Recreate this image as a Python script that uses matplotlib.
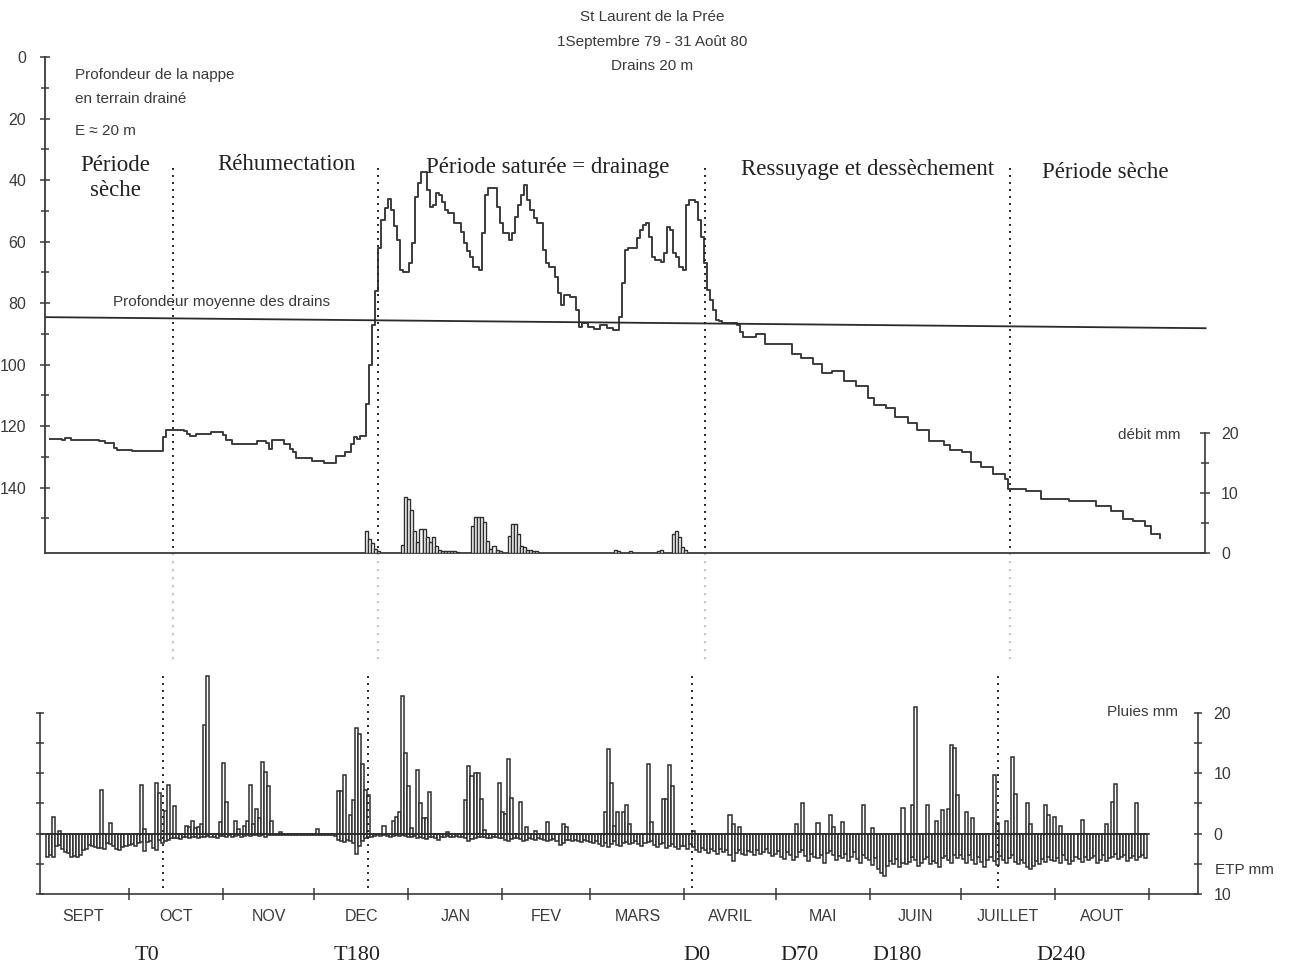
import matplotlib
matplotlib.use("Agg")
import matplotlib.pyplot as plt
from matplotlib.ticker import FixedLocator

# ---------------- data ----------------
# water-table depth (cm) : day since 1 Sept 79 -> depth
wt_day = [0, 4, 5, 7, 16, 18, 21, 22, 27, 37, 38, 44, 45, 46, 48, 53, 57, 58, 60, 68,
          71, 72, 73, 77, 79, 80, 81, 86, 90, 94, 97, 99, 100, 101, 102, 104, 105, 106,
          107, 108, 109, 110, 111, 112, 113, 114, 115, 116, 118, 119, 120, 121, 122, 124,
          125, 126, 127, 128, 129, 130, 131, 133, 135, 136, 137, 138, 139, 141, 142, 143,
          144, 147, 148, 149, 151, 152, 153, 154, 155, 156, 157, 158, 159, 160, 162, 163,
          164, 166, 167, 168, 169, 171, 173, 174, 175, 177, 179, 181, 183, 185, 187, 188,
          189, 190, 193, 194, 195, 196, 197, 198, 199, 201, 202, 203, 204, 205, 206, 207,
          208, 209, 210, 212, 213, 214, 215, 216, 217, 218, 219, 220, 221, 226, 227, 228,
          232, 235, 244, 247, 251, 254, 257, 261, 265, 269, 271, 275, 278, 282, 285, 289,
          294, 296, 300, 303, 306, 310, 314, 315, 321, 326, 335, 344, 349, 353, 356, 360,
          362, 365]
wt_depth = [124.3, 124.6, 124.0, 124.6, 125.0, 125.6, 127.0, 127.8, 128.1, 123.5, 121.3,
            121.6, 122.5, 123.2, 122.6, 122.0, 123.0, 124.5, 125.8, 124.8, 125.5, 127.5,
            124.5, 126.0, 127.5, 128.5, 130.5, 131.5, 132.0, 129.8, 128.5, 126.0, 123.5,
            124.2, 123.3, 113.0, 100.0, 87.0, 76.0, 62.0, 53.0, 49.0, 46.2, 49.8, 55.0,
            59.5, 69.3, 70.0, 67.0, 60.5, 45.5, 41.0, 37.4, 43.3, 48.8, 48.0, 44.3, 45.0,
            47.2, 49.8, 50.8, 54.0, 56.9, 60.5, 63.0, 65.0, 68.3, 69.3, 57.2, 45.0, 42.6,
            48.8, 54.0, 57.2, 59.5, 57.2, 52.0, 48.0, 45.0, 41.6, 46.5, 49.8, 52.4, 54.0,
            62.8, 67.0, 68.3, 71.5, 76.7, 80.7, 77.4, 78.0, 82.3, 87.8, 86.5, 87.8, 88.5,
            87.2, 88.1, 88.8, 84.6, 73.5, 62.8, 62.1, 58.9, 56.3, 54.6, 54.0, 58.5, 65.0,
            66.0, 66.7, 63.7, 55.3, 56.3, 63.7, 65.0, 68.3, 69.3, 48.0, 46.5, 47.2, 53.0,
            58.5, 67.0, 75.8, 79.0, 82.3, 85.5, 86.0, 86.5, 87.2, 89.4, 91.0, 90.0, 93.3,
            96.6, 97.9, 99.8, 102.7, 102.1, 105.4, 107.0, 111.0, 113.2, 114.1, 117.0, 119.0,
            121.3, 124.9, 126.2, 127.8, 128.5, 131.7, 133.3, 135.6, 137.2, 140.5, 141.1,
            143.7, 144.4, 146.0, 147.6, 150.2, 150.9, 152.5, 155.1, 156.4]

# mean drain depth (start / end of the reference line)
drain_day = [-1.5, 380]
drain_depth = [84.6, 88.2]

# drain outflow (mm/day)
debit_day = [104, 105, 106, 107, 108, 116, 117, 118, 119, 120, 121, 122, 123, 124, 125,
             126, 127, 128, 129, 130, 131, 132, 133, 134, 139, 140, 141, 142, 143, 144,
             145, 146, 147, 148, 151, 152, 153, 154, 155, 156, 157, 158, 159, 160, 186,
             187, 191, 200, 201, 205, 206, 207, 208, 209]
debit_mm = [3.7, 2.3, 1.7, 0.6, 0.3, 1.3, 9.3, 9.0, 7.2, 3.7, 1.8, 4.0, 4.0, 2.7, 1.8,
            2.7, 1.2, 0.5, 0.4, 0.3, 0.3, 0.3, 0.3, 0.2, 4.5, 6.0, 6.0, 6.0, 5.2, 2.0,
            0.7, 1.2, 0.5, 0.3, 2.8, 4.8, 4.8, 3.2, 1.2, 1.0, 0.5, 0.5, 0.4, 0.3, 0.5,
            0.3, 0.3, 0.4, 0.5, 3.2, 3.7, 2.7, 1.0, 0.5]

# rainfall (mm/day)
rain_day = [5, 7, 21, 24, 34, 35, 39, 40, 42, 43, 45, 49, 50, 51, 52, 53, 54, 55, 56, 60,
            61, 62, 65, 66, 68, 69, 70, 71, 72, 73, 74, 75, 76, 77, 80, 92, 99, 100, 101,
            103, 104, 105, 106, 107, 108, 109, 114, 117, 118, 119, 120, 121, 122, 123, 125,
            126, 127, 128, 129, 135, 141, 142, 143, 144, 145, 146, 147, 152, 153, 154, 155,
            156, 159, 161, 164, 168, 173, 174, 187, 188, 189, 190, 191, 193, 194, 195, 201,
            202, 206, 207, 208, 209, 216, 228, 229, 231, 250, 252, 257, 261, 262, 265, 272,
            275, 285, 288, 289, 293, 296, 298, 300, 301, 302, 303, 306, 308, 315, 316, 319,
            321, 322, 326, 327, 332, 333, 335, 337, 344, 352, 354, 355, 362]
rain_mm = [2.8, 0.5, 7.2, 1.8, 8.1, 0.8, 8.3, 6.7, 3.7, 8.1, 4.5, 1.2, 1.1, 2.1, 1.0, 1.1,
           1.6, 18.0, 26.0, 1.9, 11.6, 5.3, 2.0, 0.8, 1.3, 2.0, 8.0, 1.5, 4.1, 2.5, 11.9,
           10.2, 7.8, 2.0, 0.3, 0.8, 7.0, 7.0, 9.7, 3.0, 5.5, 17.4, 16.4, 11.5, 7.2, 6.4,
           1.3, 2.0, 2.7, 3.5, 22.8, 13.4, 7.8, 0.9, 10.5, 5.0, 2.5, 2.5, 6.8, 0.3, 5.6,
           11.2, 9.6, 10.0, 10.0, 5.8, 0.6, 8.3, 3.5, 3.2, 12.4, 5.9, 5.3, 1.1, 0.4, 1.9,
           1.6, 1.1, 3.5, 14.0, 8.3, 1.3, 3.5, 3.5, 4.7, 1.6, 11.5, 1.9, 5.8, 5.8, 11.3,
           7.9, 0.5, 3.0, 1.5, 1.1, 1.5, 5.0, 1.7, 3.0, 1.1, 1.9, 4.7, 0.9, 4.3, 4.7, 21.0,
           4.7, 2.0, 3.9, 4.1, 14.7, 14.2, 6.3, 3.6, 2.5, 9.7, 1.8, 2.0, 12.6, 6.6, 5.0,
           1.6, 4.7, 3.1, 2.7, 1.2, 2.2, 1.6, 5.3, 8.2, 5.1]

# potential evapotranspiration (mm/day), days 3 .. 365, by month
etp_sep = [3.8, 3.6, 3.8, 2.0, 1.9, 2.6, 3.0, 3.2, 3.8, 3.7, 3.8, 3.6, 2.7, 2.6, 1.9, 2.0,
           2.2, 2.4, 2.4, 2.5, 1.6, 1.7, 2.0, 2.6, 2.7, 2.2, 2.0]
etp_oct = [1.9, 1.8, 2.0, 1.5, 1.4, 2.9, 1.4, 1.2, 2.4, 2.8, 1.0, 1.5, 1.2, 1.0, 0.8, 0.8,
           0.7, 0.9, 0.6, 0.6, 0.7, 0.6, 0.5, 0.8, 0.6, 0.5, 0.4, 0.5, 0.5, 0.7, 0.4]
etp_nov = [0.4, 0.5, 0.3, 0.6, 0.4, 0.3, 0.5, 0.4, 0.3, 0.4, 0.3, 0.3, 0.4, 0.3, 0.5, 0.3,
           0.2, 0.3, 0.2, 0.3, 0.2, 0.2, 0.3, 0.2, 0.2, 0.3, 0.2, 0.2, 0.3, 0.2]
etp_dec = [0.3, 0.2, 0.3, 0.2, 0.3, 0.2, 0.3, 0.4, 1.0, 1.2, 1.4, 1.0, 1.3, 1.6, 3.4, 2.0,
           1.2, 0.8, 0.6, 0.5, 0.4, 0.3, 0.4, 0.3, 0.4, 0.5, 0.4, 0.3, 0.4, 0.3, 0.4]
etp_jan = [0.5, 0.6, 0.4, 0.8, 0.5, 0.7, 0.9, 0.6, 0.5, 0.8, 1.0, 0.6, 0.5, 0.4, 0.6, 0.5,
           0.4, 0.5, 0.6, 0.8, 1.2, 0.9, 0.7, 0.6, 0.5, 0.6, 0.8, 0.7, 0.5, 0.6, 0.7]
etp_feb = [0.8, 1.0, 1.2, 0.9, 0.7, 0.8, 0.9, 1.2, 1.0, 0.8, 0.9, 1.1, 0.8, 0.9, 1.0, 1.3,
           1.1, 0.9, 1.2, 1.9, 1.5, 1.0, 1.1, 1.3, 1.0, 1.2, 1.4, 1.1, 1.3]
etp_mar = [1.4, 1.6, 1.2, 1.8, 2.0, 1.5, 2.2, 1.7, 1.3, 1.9, 2.1, 1.6, 1.4, 1.8, 1.5, 1.2,
           1.7, 2.0, 1.6, 1.4, 1.3, 1.9, 2.2, 1.8, 1.5, 2.4, 2.0, 1.7, 2.3, 2.6, 2.0]
etp_apr = [2.0, 2.6, 1.8, 2.2, 2.8, 3.0, 2.4, 2.7, 3.2, 2.5, 2.9, 3.4, 2.6, 3.0, 2.8, 3.6,
           4.5, 3.2, 2.7, 3.3, 3.6, 2.9, 3.1, 3.5, 2.8, 3.4, 3.0, 2.6, 3.2, 3.7]
etp_may = [3.4, 2.9, 3.8, 4.2, 3.1, 3.6, 4.4, 3.9, 3.0, 2.8, 3.7, 4.6, 3.3, 3.9, 4.1, 3.5,
           4.8, 3.2, 2.9, 3.6, 4.3, 3.7, 4.0, 3.4, 4.5, 3.8, 3.1, 4.2, 4.9, 3.6, 4.0]
etp_jun = [4.4, 5.2, 4.1, 5.8, 6.5, 7.0, 5.4, 4.6, 5.0, 4.2, 5.6, 4.8, 5.1, 4.7, 3.9, 4.4,
           5.3, 4.9, 4.2, 3.8, 5.1, 4.6, 4.9, 5.5, 4.1, 3.7, 4.3, 4.8, 3.6, 4.0]
etp_jul = [3.5, 4.2, 4.8, 3.6, 4.4, 5.0, 3.9, 4.7, 5.6, 4.3, 3.8, 4.6, 5.2, 3.7, 4.4, 4.9,
           4.0, 3.5, 4.7, 5.1, 4.3, 4.8, 5.5, 5.8, 5.3, 4.6, 5.0, 4.2, 4.7, 3.9, 4.4]
etp_aug = [4.6, 4.0, 4.9, 3.6, 4.3, 5.1, 4.5, 3.8, 4.2, 4.7, 3.9, 4.4, 4.0, 3.7, 4.8, 4.3,
           3.5, 4.6, 4.1, 3.8, 3.4, 4.2, 3.9, 3.6, 4.5, 4.0, 3.7, 4.3, 3.8, 3.5, 4.0]
etp_first_day = 3

months = ["SEPT", "OCT", "NOV", "DEC", "JAN", "FEV", "MARS", "AVRIL", "MAI", "JUIN",
          "JUILLET", "AOUT"]
month_start = [0, 30, 61, 91, 122, 153, 182, 213, 243, 274, 304, 335, 366]

# phase boundaries (day) and phase markers
phase_day_top = [40.3, 107.9, 215.4, 315.7]
phase_day_bot = [41.2, 108.7, 215.5, 316.3]
marker_labels = ["T0", "T180", "D0", "D70", "D180", "D240"]
marker_day = [36, 105, 217, 251, 283, 337]

period_labels = ["Période\nsèche", "Réhumectation", "Période saturée = drainage",
                 "Ressuyage et dessèchement", "Période sèche"]

depth_ticks = [0, 20, 40, 60, 80, 100, 120, 140]
depth_minor = [10, 30, 50, 70, 90, 110, 130, 150]

# ---------------- figure ----------------
W, H = 1293, 973
fig = plt.figure(figsize=(W / 100, H / 100), dpi=100)
SANS = ["Liberation Sans", "DejaVu Sans"]
SERIF = ["Liberation Serif", "DejaVu Serif"]
INK = "#3a3a3a"
BAR = "#2e2e2e"
plt.rcParams["font.family"] = SANS


def px_axes(l, t, r, b):
    return fig.add_axes([l / W, 1 - b / H, (r - l) / W, (b - t) / H])


def ftxt(x, y, s, **kw):
    kw.setdefault("color", INK)
    return fig.text(x / W, 1 - y / H, s, **kw)


# ---------- top panel : water table ----------
ax1 = px_axes(45, 57, 1205, 553)
ax1.set_xlim(-1.64, 379.8)
ax1.set_ylim(161.3, 0)
ax1.patch.set_alpha(0)
for s in ["top", "right"]:
    ax1.spines[s].set_visible(False)
for s in ["left", "bottom"]:
    ax1.spines[s].set_color(INK)
    ax1.spines[s].set_linewidth(1.3)
ax1.set_xticks([])
ax1.yaxis.set_major_locator(FixedLocator(depth_ticks))
ax1.yaxis.set_minor_locator(FixedLocator(depth_minor))
ax1.tick_params(axis="y", which="major", direction="inout", length=7, width=1.1,
                color=INK, labelsize=11.5, labelcolor=INK, pad=10)
ax1.tick_params(axis="y", which="minor", direction="inout", length=6, width=1.1, color=INK)

ax1.plot(wt_day, wt_depth, drawstyle="steps-post", color="#3c3c3c", lw=1.4)
ax1.plot(drain_day, drain_depth, color="#2a2a2a", lw=1.3, clip_on=False)

for d in phase_day_top:
    ax1.vlines(d, 36, 161.3, colors="#222222", linestyles=(0, (1, 2.6)), lw=1.4)
    ax1.vlines(d, 161.3, 196, colors="#c8c8c8", linestyles=(0, (1, 2.6)), lw=1.6,
               clip_on=False)

# drain outflow axis
ax1b = ax1.twinx()
ax1b.set_xlim(ax1.get_xlim())
ax1b.set_ylim(0, 82.7)
for s in ["top", "left", "bottom"]:
    ax1b.spines[s].set_visible(False)
ax1b.spines["right"].set_bounds(0, 20)
ax1b.spines["right"].set_color(INK)
ax1b.spines["right"].set_linewidth(1.2)
ax1b.yaxis.set_major_locator(FixedLocator([0, 10, 20]))
ax1b.yaxis.set_minor_locator(FixedLocator([5, 15]))
ax1b.tick_params(axis="y", which="major", direction="inout", length=7, width=1.1,
                 color=INK, labelsize=11.5, labelcolor=INK, pad=8)
ax1b.tick_params(axis="y", which="minor", direction="inout", length=6, width=1.1, color=INK)
ax1b.bar(debit_day, debit_mm, width=1.0, facecolor="white", edgecolor=BAR,
         linewidth=1.0)

# ---------- bottom panel : rain / ETP ----------
ax2 = px_axes(40, 673.4, 1198, 894)
ax2.set_xlim(0.66, 382.2)
ax2.set_ylim(-10, 26.5)
ax2.patch.set_alpha(0)
ax2.spines["top"].set_visible(False)
for s in ["left", "right", "bottom"]:
    ax2.spines[s].set_color(INK)
    ax2.spines[s].set_linewidth(1.2)
ax2.spines["left"].set_bounds(-10, 20)
ax2.spines["right"].set_bounds(-10, 20)
ax2.yaxis.set_ticks_position("both")
ax2.yaxis.set_major_locator(FixedLocator([-10, 0, 10, 20]))
ax2.yaxis.set_minor_locator(FixedLocator([-5, 5, 15]))
ax2.set_yticklabels(["10", "0", "10", "20"])
ax2.tick_params(axis="y", which="both", direction="inout", length=6, width=1.1,
                color=INK, labelleft=False, labelright=True, labelsize=11.5,
                labelcolor=INK, pad=8)
ax2.xaxis.set_major_locator(FixedLocator(month_start[1:]))
ax2.tick_params(axis="x", direction="inout", length=8, width=1.1, color=INK,
                labelbottom=False)

etp_all = (etp_sep + etp_oct + etp_nov + etp_dec + etp_jan + etp_feb + etp_mar +
           etp_apr + etp_may + etp_jun + etp_jul + etp_aug)
etp_day = list(range(etp_first_day, etp_first_day + len(etp_all)))
ax2.bar(etp_day, [-v for v in etp_all], width=1.0, facecolor="white",
        edgecolor=BAR, linewidth=1.1)
ax2.bar(rain_day, rain_mm, width=1.0, facecolor="white", edgecolor=BAR,
        linewidth=1.1)
ax2.plot([month_start[0], month_start[-1]], [0, 0], color=BAR, lw=1.2)

for d in phase_day_bot:
    ax2.vlines(d, -9, 26.5, colors="#222222", linestyles=(0, (1, 2.6)), lw=1.4)

xt = ax2.get_xaxis_transform()
for i, m in enumerate(months):
    mid = 0.5 * (month_start[i] + month_start[i + 1])
    ax2.text(mid, -0.104, m, transform=xt, ha="center", va="center", fontsize=11.5,
             color=INK)
for lab, d in zip(marker_labels, marker_day):
    ax2.text(d, -0.277, lab, transform=xt, ha="center", va="center", fontsize=16,
             family=SERIF, color="#222222")

# ---------- texts ----------
ftxt(652, 17, "St Laurent de la Prée", ha="center", va="center", fontsize=11)
ftxt(652, 42, "1Septembre 79 - 31 Août 80", ha="center", va="center", fontsize=11)
ftxt(652, 66, "Drains 20 m", ha="center", va="center", fontsize=11)

ftxt(75, 75, "Profondeur de la nappe", ha="left", va="center", fontsize=11)
ftxt(75, 99, "en terrain drainé", ha="left", va="center", fontsize=11)
ftxt(75, 131, "E ≈ 20 m", ha="left", va="center", fontsize=11)

ftxt(113, 302, "Profondeur moyenne des drains", ha="left", va="center", fontsize=11)

serif_kw = dict(family=SERIF, fontsize=16.5, ha="center", va="center", color="#222222")
ftxt(115, 178, period_labels[0], linespacing=1.25, **serif_kw)
ftxt(286, 165, period_labels[1], **serif_kw)
ftxt(548, 167, period_labels[2], **serif_kw)
ftxt(868, 170, period_labels[3], **serif_kw)
ftxt(1105, 173, period_labels[4], **serif_kw)

ftxt(1180, 435, "débit mm", ha="right", va="center", fontsize=11)
ftxt(1178, 712, "Pluies mm", ha="right", va="center", fontsize=11)
ftxt(1215, 870, "ETP mm", ha="left", va="center", fontsize=11)

fig.savefig("out.png", dpi=100, facecolor="white")
